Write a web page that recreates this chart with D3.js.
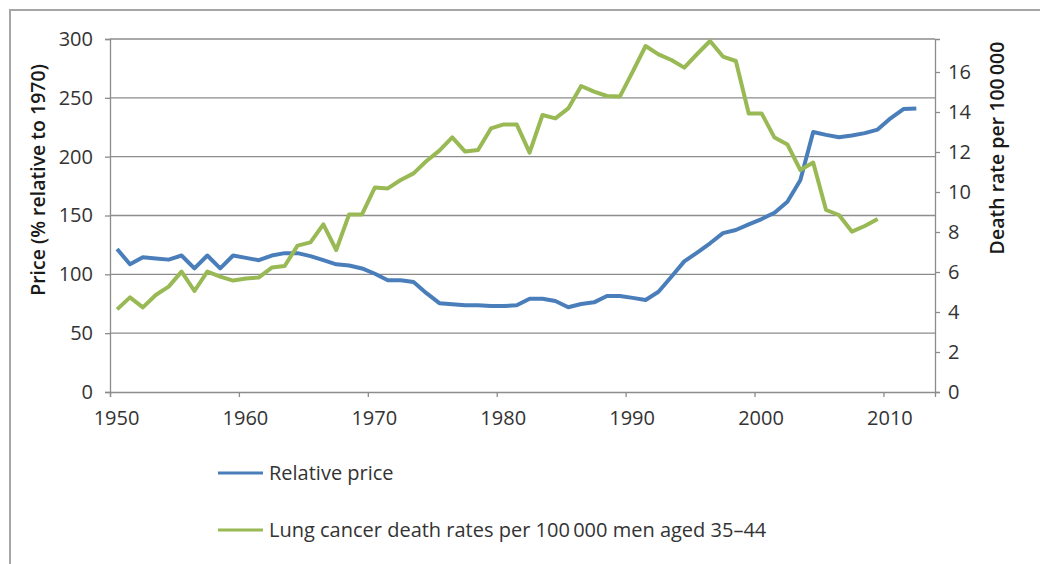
<!DOCTYPE html>
<html>
<head>
<meta charset="utf-8">
<script src="https://cdn.jsdelivr.net/npm/d3@7"></script>
<style>
  body { margin: 0; background: #fff; }
  svg { display: block; font-family: "Open Sans", "DejaVu Sans", sans-serif; }
  .tick text { fill: #333; font-size: 20px; }
  .title { fill: #1a1a1a; font-size: 19.5px; font-weight: 600; }
  .legend text { fill: #333; font-size: 20px; }
</style>
</head>
<body>
<div class="chart"></div>
<script>
// years for each series (points sit at mid-year)
var priceYears = d3.range(1950, 2013);
var deathYears = d3.range(1950, 2010);

// cigarette price, % relative to 1970
var relativePrice = [
  121.5, 108.5, 114.5, 113.5, 112.5, 116, 105, 116, 105, 116,
  114, 112, 116, 118, 118, 115.5, 112, 108.5, 107.5, 105,
  100.5, 95, 95, 93.5, 84, 75.5, 74.5, 73.7, 73.7, 73,
  73, 73.7, 79.3, 79.3, 77.3, 72, 74.8, 76.2, 81.6, 81.6,
  80, 78.2, 85.2, 98, 111, 118.5, 126.4, 135, 137.7, 142.5,
  147, 152.4, 161.7, 180, 221, 218.5, 216.5, 218, 220, 223,
  232.6, 240.5, 241
];

// lung cancer death rate per 100 000 men aged 35-44
var deathRate = [
  4.13, 4.73, 4.23, 4.85, 5.27, 6.02, 5.05, 6.02, 5.77, 5.57,
  5.67, 5.73, 6.22, 6.3, 7.32, 7.48, 8.38, 7.1, 8.88, 8.88,
  10.23, 10.18, 10.6, 10.93, 11.55, 12.07, 12.73, 12.02, 12.1, 13.18,
  13.38, 13.38, 11.97, 13.85, 13.68, 14.18, 15.3, 15.02, 14.8, 14.77,
  16.02, 17.3, 16.88, 16.6, 16.22, 16.9, 17.55, 16.77, 16.55, 13.93,
  13.93, 12.72, 12.38, 11.1, 11.47, 9.1, 8.85, 8.02, 8.3, 8.65
];

var xTicks = [1950, 1960, 1970, 1980, 1990, 2000, 2010];
var priceTicks = [0, 50, 100, 150, 200, 250, 300];
var rateTicks = [0, 2, 4, 6, 8, 10, 12, 14, 16];

var seriesNames = ["Relative price", "Lung cancer death rates per 100\u2009000  men aged 35\u201344"];
var seriesColors = ["#4a7ebb", "#98b954"];

var W = 1040, H = 564;
var margin = {top: 39, right: 105, bottom: 172, left: 110},
    width = W - margin.left - margin.right,
    height = H - margin.top - margin.bottom;

var svg = d3.select(".chart").append("svg")
    .attr("width", W)
    .attr("height", H);

// outer chart frame (only top and left edges show)
svg.append("rect")
    .attr("x", 10).attr("y", 10)
    .attr("width", 1100).attr("height", 700)
    .attr("fill", "none")
    .attr("stroke", "#a6a6a6")
    .attr("stroke-width", 2);

var g = svg.append("g")
    .attr("transform", "translate(" + margin.left + "," + margin.top + ")");

var x = d3.scaleLinear()
    .domain([1950, 2014])
    .range([0, width]);

var yLeft = d3.scaleLinear()
    .domain([0, 300])
    .range([height, 0]);

var yRight = d3.scaleLinear()
    .domain([0, 17.65])
    .range([height, 0]);

// gridlines
g.append("g")
    .selectAll("line")
    .data(priceTicks.slice(1))
  .enter().append("line")
    .attr("x1", 0)
    .attr("x2", width)
    .attr("y1", function(d) { return yLeft(d); })
    .attr("y2", function(d) { return yLeft(d); })
    .attr("stroke", "#8c8c8c")
    .attr("stroke-width", 1.3);

var leftAxis = g.append("g")
    .call(d3.axisLeft(yLeft).tickValues(priceTicks).tickSize(5).tickPadding(12));

var rightAxis = g.append("g")
    .attr("transform", "translate(" + width + ",0)")
    .call(d3.axisRight(yRight).tickValues(rateTicks).tickSize(5).tickPadding(8));

var bottomAxis = g.append("g")
    .attr("transform", "translate(0," + height + ")")
    .call(d3.axisBottom(x).tickValues(xTicks).tickFormat(d3.format("d")).tickSize(5).tickPadding(14));

[leftAxis, rightAxis, bottomAxis].forEach(function(a) {
  a.selectAll(".domain").attr("stroke", "#8c8c8c").attr("stroke-width", 1.3);
  a.selectAll(".tick line").attr("stroke", "#8c8c8c").attr("stroke-width", 1.3);
  a.attr("font-family", null).attr("font-size", null);
});
bottomAxis.selectAll(".tick text").attr("dx", 6);

// lines
var priceLine = d3.line()
    .x(function(d, i) { return x(priceYears[i] + 0.55); })
    .y(function(d) { return yLeft(d); });

var rateLine = d3.line()
    .x(function(d, i) { return x(deathYears[i] + 0.55); })
    .y(function(d) { return yRight(d); });

g.append("path")
    .datum(relativePrice)
    .attr("fill", "none")
    .attr("stroke", seriesColors[0])
    .attr("stroke-width", 4)
    .attr("stroke-linejoin", "round")
    .attr("d", priceLine);

g.append("path")
    .datum(deathRate)
    .attr("fill", "none")
    .attr("stroke", seriesColors[1])
    .attr("stroke-width", 4)
    .attr("stroke-linejoin", "round")
    .attr("d", rateLine);

// axis titles
svg.append("text")
    .attr("class", "title")
    .attr("transform", "translate(45,180) rotate(-90)")
    .attr("text-anchor", "middle")
    .text("Price (% relative to 1970)");

svg.append("text")
    .attr("class", "title")
    .attr("transform", "translate(1004,148) rotate(-90)")
    .attr("text-anchor", "middle")
    .text("Death rate per 100\u2009000");

// legend
var legend = svg.append("g")
    .attr("class", "legend")
    .selectAll("g")
    .data(seriesNames)
  .enter().append("g")
    .attr("transform", function(d, i) { return "translate(218," + (473 + i * 57) + ")"; });

legend.append("line")
    .attr("x1", 0).attr("x2", 45)
    .attr("stroke", function(d, i) { return seriesColors[i]; })
    .attr("stroke-width", 3);

legend.append("text")
    .attr("x", 51)
    .attr("dy", "0.35em")
    .text(function(d) { return d; });
</script>
</body>
</html>
